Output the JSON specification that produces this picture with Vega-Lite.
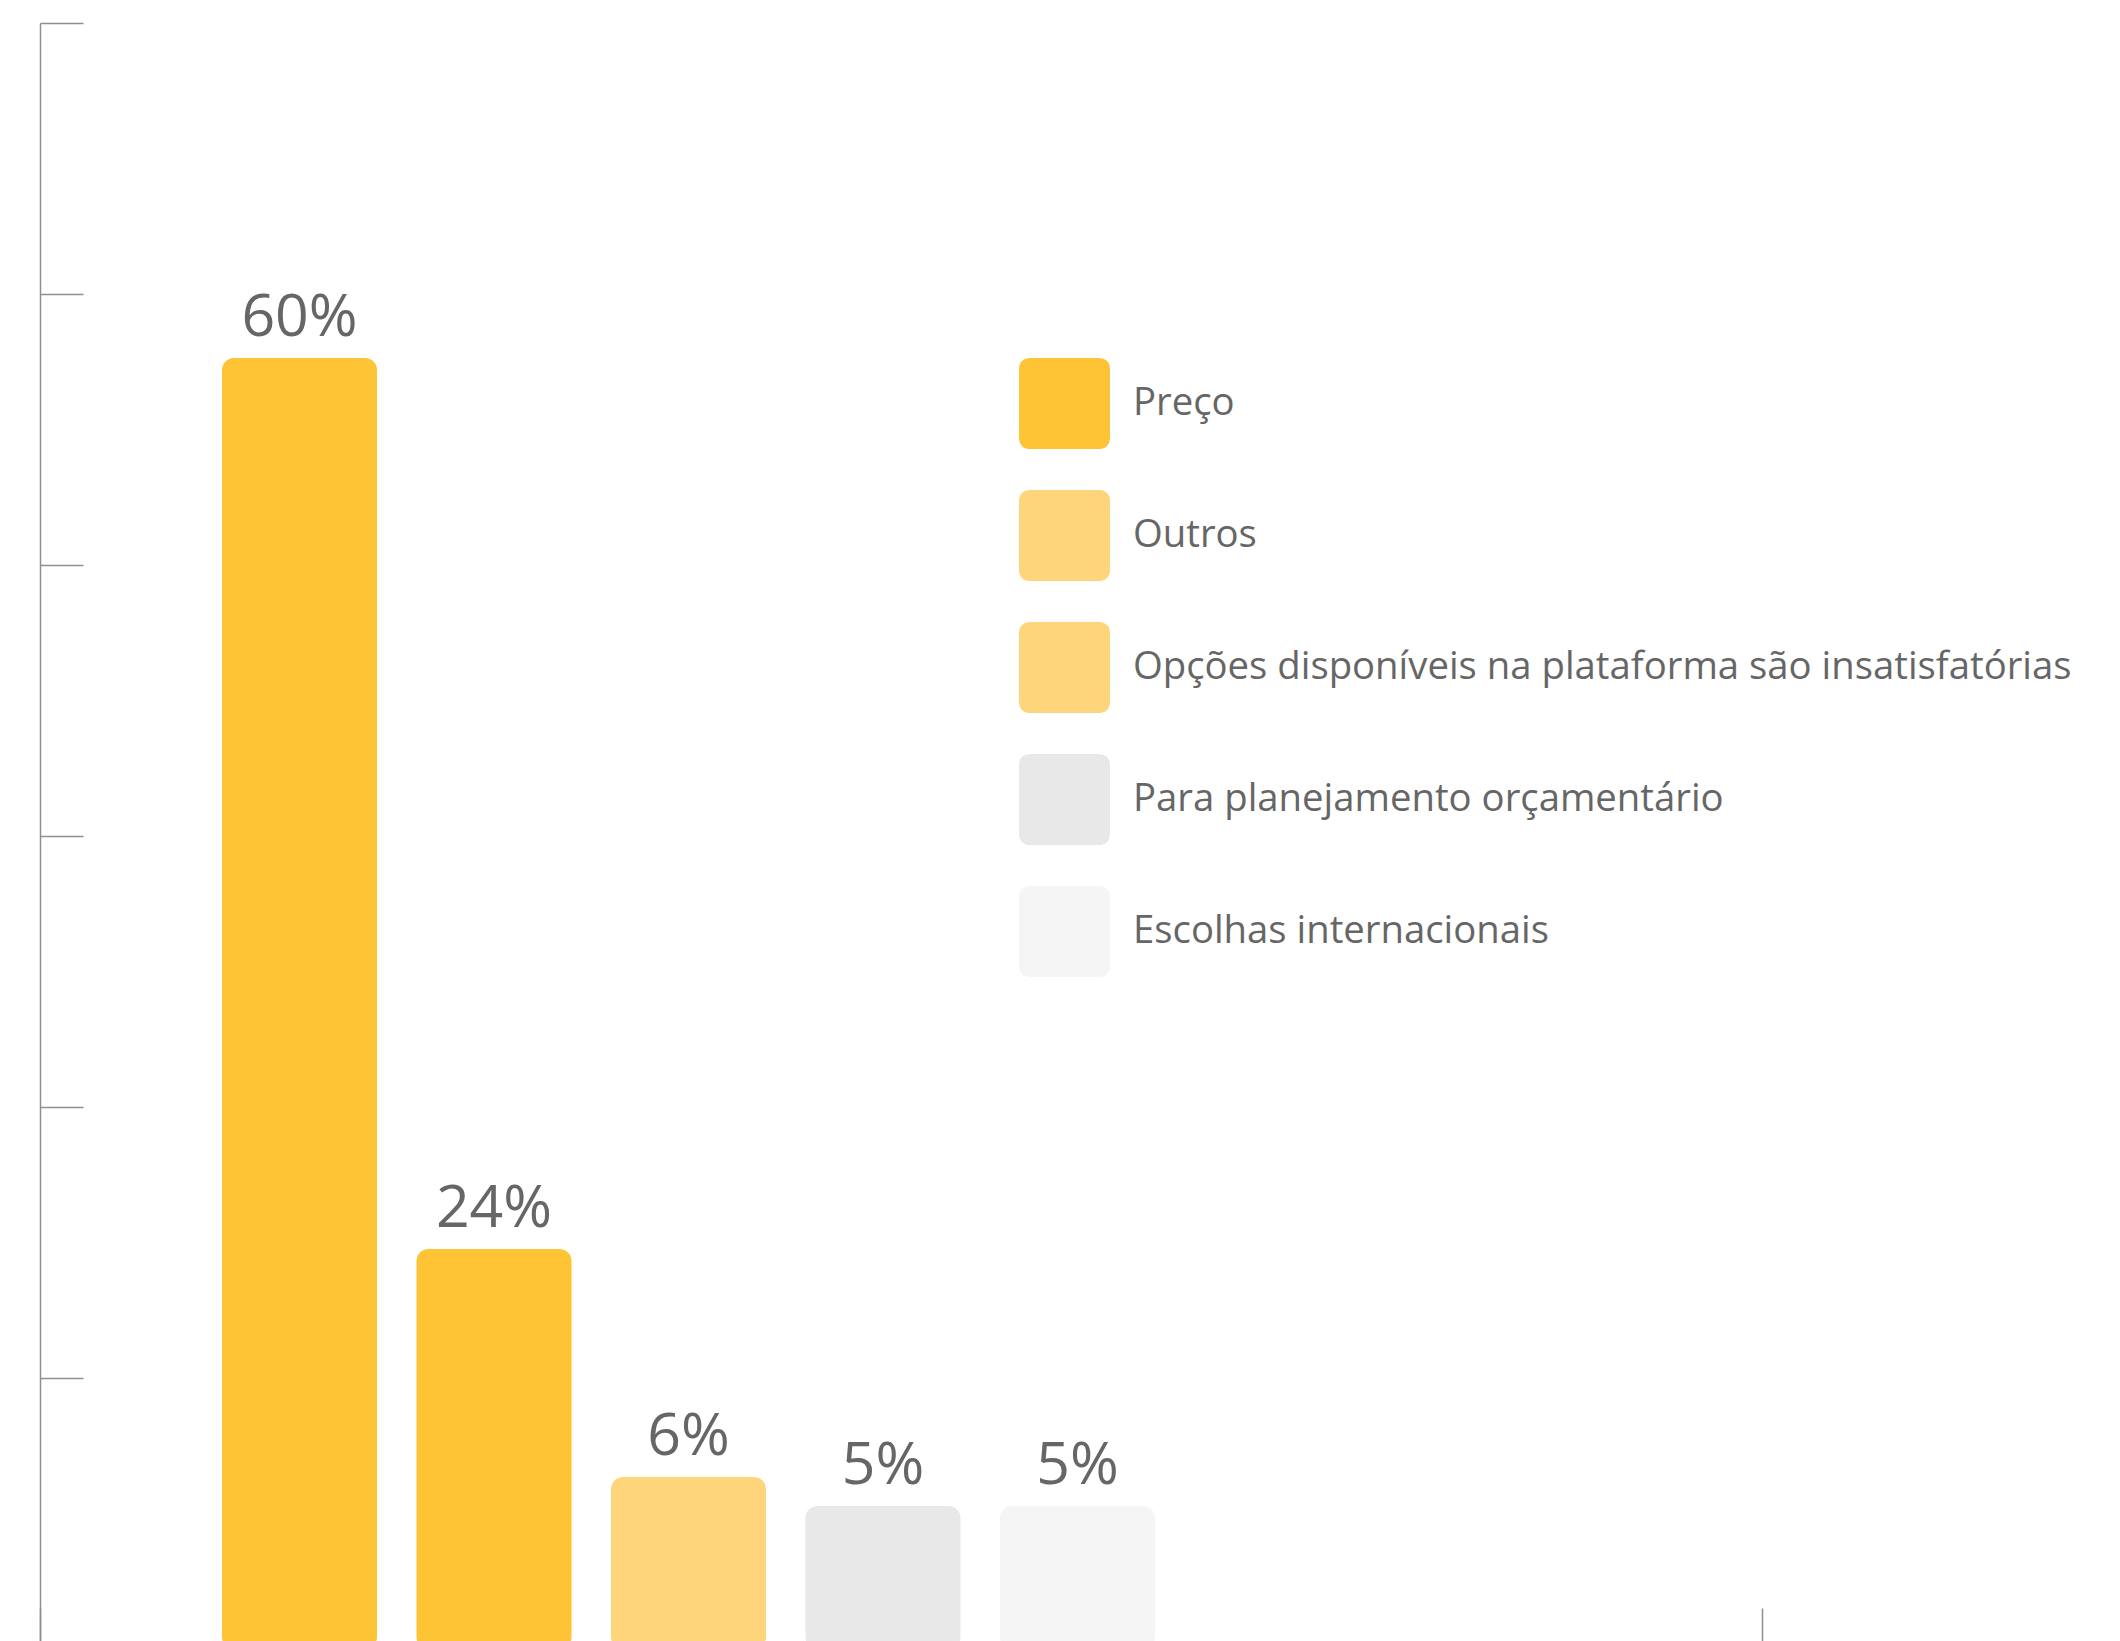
{
  "$schema": "https://vega.github.io/schema/vega-lite/v6.json",
  "autosize": {"type": "none"},
  "width": 1722,
  "height": 1618,
  "padding": {"left": 40, "top": 23, "right": 358, "bottom": 0},
  "background": "#ffffff",
  "config": {
    "view": {"stroke": null},
    "font": "Open Sans"
  },
  "data": {
    "values": [
      {"category": "Preço", "label": "60%", "value": 47.64},
      {"category": "Outros", "label": "24%", "value": 14.76},
      {"category": "Opções disponíveis na plataforma são insatisfatórias", "label": "6%", "value": 6.35},
      {"category": "Para planejamento orçamentário", "label": "5%", "value": 5.28},
      {"category": "Escolhas internacionais", "label": "5%", "value": 5.28}
    ]
  },
  "layer": [
    {
      "encoding": {
        "x": {
          "field": "category", "type": "nominal", "sort": null,
          "scale": {"range": [182, 1115], "paddingInner": 0.203, "paddingOuter": 0},
          "axis": null
        },
        "y": {
          "field": "value", "type": "quantitative",
          "scale": {"domain": [0.295, 60], "zero": false, "nice": false},
          "axis": {
            "values": [10, 20, 30, 40, 50, 60],
            "labels": false, "title": null, "grid": false,
            "tickSize": -43, "tickColor": "#8f8f8f", "tickWidth": 1.5,
            "domainColor": "#8f8f8f", "domainWidth": 1.5
          }
        }
      },
      "layer": [
        {
          "mark": {"type": "bar", "cornerRadius": 12, "clip": true},
          "encoding": {
            "y2": {"datum": 0},
            "color": {
              "field": "category", "type": "nominal", "sort": null,
              "scale": {
                "domain": ["Preço", "Outros", "Opções disponíveis na plataforma são insatisfatórias", "Para planejamento orçamentário", "Escolhas internacionais"],
                "range": ["#FEC435", "#FEC435", "#FFD57B", "#E8E8E8", "#F5F5F5"]
              },
              "legend": null
            }
          }
        },
        {
          "mark": {"type": "text", "baseline": "alphabetic", "align": "center", "dy": -22, "fontSize": 59, "font": "Open Sans", "color": "#666666"},
          "encoding": {"text": {"field": "label"}}
        }
      ]
    },
    {
      "mark": {"type": "text", "text": ""},
      "encoding": {
        "color": {
          "field": "category", "type": "nominal", "sort": null,
          "scale": {
            "domain": ["Preço", "Outros", "Opções disponíveis na plataforma são insatisfatórias", "Para planejamento orçamentário", "Escolhas internacionais"],
            "range": ["#FEC435", "#FFD57B", "#FFD57B", "#E8E8E8", "#F5F5F5"]
          },
          "legend": {
            "orient": "none", "legendX": 979, "legendY": 335, "direction": "vertical",
            "title": null, "padding": 0,
            "symbolType": "M-0.74,-1H0.74Q1,-1 1,-0.74V0.74Q1,1 0.74,1H-0.74Q-1,1 -1,0.74V-0.74Q-1,-1 -0.74,-1Z",
            "symbolSize": 8281, "symbolStrokeWidth": 0, "symbolOpacity": 1,
            "labelFont": "Open Sans", "labelFontSize": 38.3, "labelColor": "#666666",
            "labelOffset": 23, "rowPadding": 41, "labelLimit": 2000
          }
        }
      }
    },
    {
      "mark": {"type": "rule", "opacity": 0},
      "encoding": {
        "x": {
          "datum": 0, "type": "quantitative",
          "scale": {"domain": [0, 1], "nice": false, "zero": false},
          "axis": {
            "values": [0, 1], "labels": false, "title": null, "grid": false, "domain": false,
            "tickSize": -33, "tickColor": "#8f8f8f", "tickWidth": 1.5
          }
        }
      }
    }
  ],
  "resolve": {
    "scale": {"x": "independent", "color": "independent"},
    "axis": {"x": "independent"},
    "legend": {"color": "independent"}
  }
}
